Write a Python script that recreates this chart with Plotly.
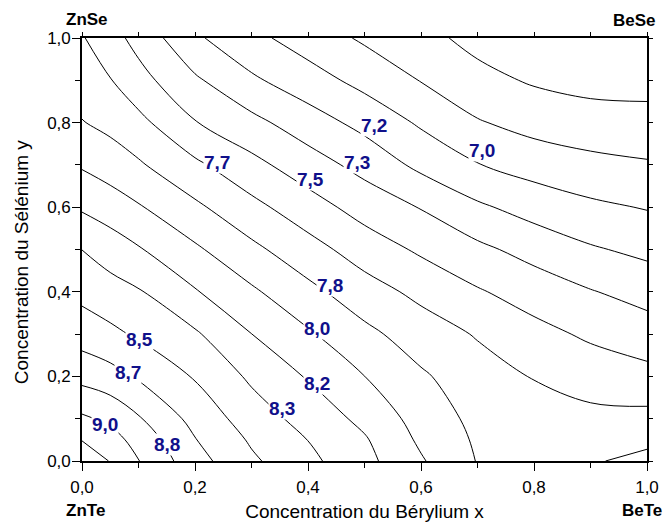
import plotly.graph_objects as go

# ---- data (rows = y, cols = x) ----
x_beryllium = [0.0, 0.05, 0.1, 0.2, 0.3, 0.4, 0.5, 0.6, 0.7, 0.8, 0.9, 1.0]
y_selenium = [0.0, 0.05, 0.1, 0.2, 0.3, 0.4, 0.5, 0.6, 0.7, 0.8, 0.9, 1.0]
z_values = [
    [9.300, 9.158, 9.005, 8.730, 8.528, 8.374, 8.216, 8.017, 7.826, 7.790, 7.820, 7.870],
    [9.160, 9.065, 8.941, 8.674, 8.479, 8.331, 8.184, 7.971, 7.810, 7.760, 7.760, 7.804],
    [9.027, 8.964, 8.850, 8.612, 8.419, 8.271, 8.124, 7.934, 7.788, 7.730, 7.710, 7.715],
    [8.780, 8.728, 8.646, 8.486, 8.304, 8.153, 8.001, 7.856, 7.740, 7.659, 7.595, 7.550],
    [8.592, 8.537, 8.477, 8.355, 8.168, 8.021, 7.875, 7.752, 7.653, 7.552, 7.473, 7.410],
    [8.453, 8.399, 8.348, 8.180, 8.026, 7.878, 7.738, 7.624, 7.516, 7.427, 7.343, 7.272],
    [8.332, 8.255, 8.181, 8.026, 7.872, 7.730, 7.589, 7.474, 7.371, 7.274, 7.185, 7.127],
    [8.145, 8.084, 8.015, 7.865, 7.714, 7.571, 7.434, 7.325, 7.194, 7.100, 7.033, 6.990],
    [7.982, 7.922, 7.854, 7.699, 7.548, 7.410, 7.278, 7.126, 7.007, 6.932, 6.880, 6.850],
    [7.841, 7.787, 7.713, 7.508, 7.380, 7.244, 7.116, 6.977, 6.847, 6.773, 6.737, 6.724],
    [7.750, 7.674, 7.560, 7.359, 7.194, 7.072, 6.948, 6.827, 6.714, 6.649, 6.613, 6.609],
    [7.680, 7.564, 7.444, 7.193, 7.045, 6.921, 6.809, 6.713, 6.620, 6.570, 6.530, 6.500],
]
level_start = 40 / 6          # 6.667
level_step = 1 / 6
level_end = 55 / 6            # 9.167

labelled_levels = [54/6, 53/6, 52/6, 51/6, 50/6, 49/6, 48/6, 47/6, 46/6, 45/6, 44/6, 43/6, 42/6]
x_ticks = [0.0, 0.2, 0.4, 0.6, 0.8, 1.0]
y_ticks = [0.0, 0.2, 0.4, 0.6, 0.8, 1.0]
corner_names = ["ZnSe", "BeSe", "ZnTe", "BeTe"]
x_title = "Concentration du Bérylium x"
y_title = "Concentration du Sélénium y"

# ---- layout / style ----
label_spots = [(0.041, 0.087), (0.150, 0.040), (0.082, 0.209), (0.101, 0.288),
               (0.354, 0.124), (0.416, 0.183), (0.416, 0.314), (0.439, 0.415),
               (0.239, 0.705), (0.405, 0.666), (0.487, 0.705), (0.517, 0.7925),
               (0.708, 0.733)]
corner_spots = [(0.009, 1.043), (0.977, 1.041), (0.006, -0.118), (0.991, -0.118)]
FONT = "Liberation Sans, Arial, sans-serif"
NAVY = "#10108a"

fig = go.Figure()
fig.add_trace(go.Contour(
    x=x_beryllium, y=y_selenium, z=z_values,
    contours=dict(start=level_start, end=level_end + 0.001, size=level_step,
                  coloring="none", showlabels=False),
    line=dict(color="black", width=1, smoothing=1.0),
    showscale=False, hoverinfo="skip",
))
fig.add_trace(go.Scatter(x=[None], y=[None], xaxis="x2", yaxis="y2",
                         showlegend=False, hoverinfo="skip"))

annotations = []
for v, (lx, ly) in zip(labelled_levels, label_spots):
    annotations.append(dict(
        x=lx, y=ly, xref="x", yref="y", showarrow=False,
        text=f"{v:.1f}".replace(".", ","),
        font=dict(family=FONT, size=19, color=NAVY, weight="bold"),
        bgcolor="white", borderpad=0,
    ))
for name, (cx, cy) in zip(corner_names, corner_spots):
    annotations.append(dict(
        x=cx, y=cy, xref="paper", yref="paper", showarrow=False,
        text=name, xanchor="center", yanchor="middle",
        font=dict(family=FONT, size=17, color="black", weight="bold"),
    ))
annotations.append(dict(
    x=-0.108, y=0.47, xref="paper", yref="paper", showarrow=False,
    text=y_title, textangle=-90, xanchor="center", yanchor="middle",
    font=dict(family=FONT, size=19, color="black"),
))

axis_common = dict(
    range=[0, 1], showgrid=False, zeroline=False, showline=True,
    linecolor="black", linewidth=1.6, ticks="outside", ticklen=8,
    tickwidth=1.3, tickcolor="black", tickformat=".1f", automargin=False,
    tickfont=dict(family=FONT, size=17, color="black"),
    minor=dict(dtick=0.1, ticks="outside", ticklen=5, tickwidth=1.3,
               tickcolor="black", showgrid=False),
)
mirror_common = dict(
    range=[0, 1], showgrid=False, zeroline=False, showline=True,
    linecolor="black", linewidth=1.6, ticks="outside", ticklen=4,
    tickwidth=1.2, tickcolor="black", dtick=0.1, tick0=0,
    showticklabels=False, automargin=False,
)

fig.update_layout(
    width=665, height=522,
    margin=dict(l=82, r=18, t=38, b=61, pad=0),
    paper_bgcolor="white", plot_bgcolor="white",
    separators=", ",
    font=dict(family=FONT, color="black"),
    xaxis=dict(**axis_common, tickvals=x_ticks, ticklabelstandoff=2,
               title=dict(text=x_title,
                          font=dict(family=FONT, size=19), standoff=9)),
    yaxis=dict(**axis_common, tickvals=y_ticks, ticklabelstandoff=-2),
    xaxis2=dict(**mirror_common, overlaying="x", side="top", anchor="y"),
    yaxis2=dict(**mirror_common, overlaying="y", side="right", anchor="x"),
    annotations=annotations,
    showlegend=False,
)

fig.write_html("out.html")
